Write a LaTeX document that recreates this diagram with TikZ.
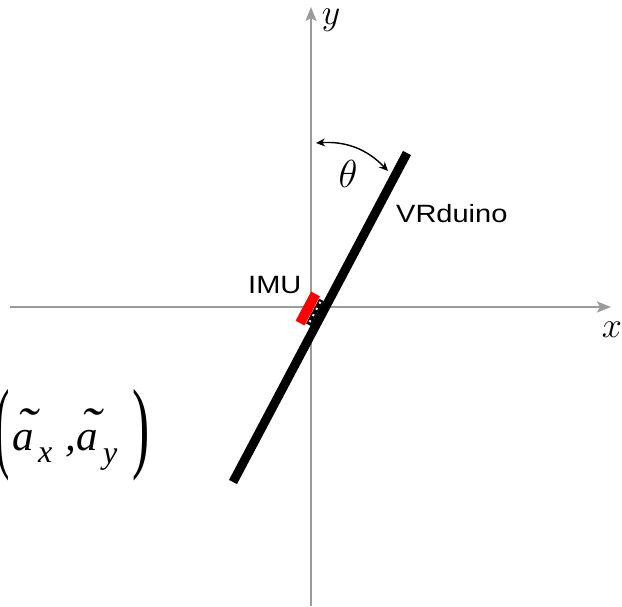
\documentclass[tikz,border=0pt]{standalone}
\usepackage{fix-cm}
\usepackage{fontspec}
\setmainfont{Liberation Sans}
\newfontfamily\tnr{Liberation Serif}
\usetikzlibrary{arrows.meta,calc}
\definecolor{axisgray}{RGB}{155,155,155}
\newcommand{\tila}{\rlap{\raisebox{7pt}{\kern4pt\scalebox{1.4}[1.2]{\symbol{"02DC}}}}a}
\begin{document}
\begin{tikzpicture}[x=1pt,y=-1pt,
  axis/.style={draw=axisgray,line width=2pt,-{Stealth[length=14pt,width=11pt,inset=3pt,fill=axisgray]}},
  barline/.style={line width=9pt,line cap=butt,draw=black},
  anglearrow/.style={line width=1.4pt,{Stealth[length=9pt,width=8pt]}-{Stealth[length=9pt,width=8pt]}},
  sanslabel/.style={inner sep=0pt,font=\fontsize{25}{30}\selectfont},
  mathlabel/.style={inner sep=0pt,font=\fontsize{36}{40}\selectfont},
  imubox/.style={fill=red,draw=none,minimum width=33pt,minimum height=10pt,inner sep=0pt,rotate=62.1},
  pinbox/.style={fill=black,draw=none,minimum width=28pt,minimum height=5pt,inner sep=0pt,rotate=62.1}]
\useasboundingbox (0,0) rectangle (622,606);
% axes
\coordinate (xs) at (10,307);
\coordinate (xe) at (611,307);
\coordinate (ys) at (311,606);
\coordinate (ye) at (311,7);
\draw[axis] (xs) -- (xe);
\draw[axis] (ys) -- (ye);
\node[mathlabel] (xl) at (612,330) {$x$};
\node[mathlabel] (yl) at (331,20) {$y$};
% bar
\coordinate (B) at (233,482);
\coordinate (T) at (407,153);
\draw[barline] (B) -- (T);
% IMU
\coordinate (P) at ($(B)!0.506!(T)$);
\node[pinbox] (pins) at ($(P)!7pt!90:(T)$) {};
\draw[white,line width=2pt,dash pattern=on 2pt off 5pt,dash phase=-3pt] (pins.west) -- (pins.east);
\node[imubox] (imu) at ($(P)!15pt!90:(T)$) {};
\node[sanslabel,anchor=base west] (imul) at (248,293) {\scalebox{1.16}[1]{IMU}};
\node[sanslabel,anchor=base west] (vrl) at (396,222) {\scalebox{1.16}[1]{VRduino}};
% angle
\coordinate (ta) at (316,143);
\coordinate (tb) at (388,171);
\draw[anglearrow] (ta) to[bend left=25] (tb);
\node[inner sep=0pt,font=\fontsize{39}{40}\selectfont] (th) at (348,174) {$\theta$};
% acceleration label
\node[inner sep=0pt,anchor=base west] (acc) at (-5,450) {\tnr\itshape\fontsize{43}{43}\selectfont
  \makebox[17pt][l]{\raisebox{-9pt}{\scalebox{1}[2.35]{\upshape(}}}%
  \makebox[26pt][l]{\tila}%
  \makebox[27pt][l]{\raisebox{-12pt}{\fontsize{32}{32}\selectfont x}}%
  \makebox[11pt][l]{,}%
  \makebox[27pt][l]{\tila}%
  \makebox[29pt][l]{\raisebox{-13pt}{\fontsize{32}{32}\selectfont y}}%
  \raisebox{-9pt}{\scalebox{1.2}[2.35]{\upshape)}}};
\end{tikzpicture}
\end{document}
